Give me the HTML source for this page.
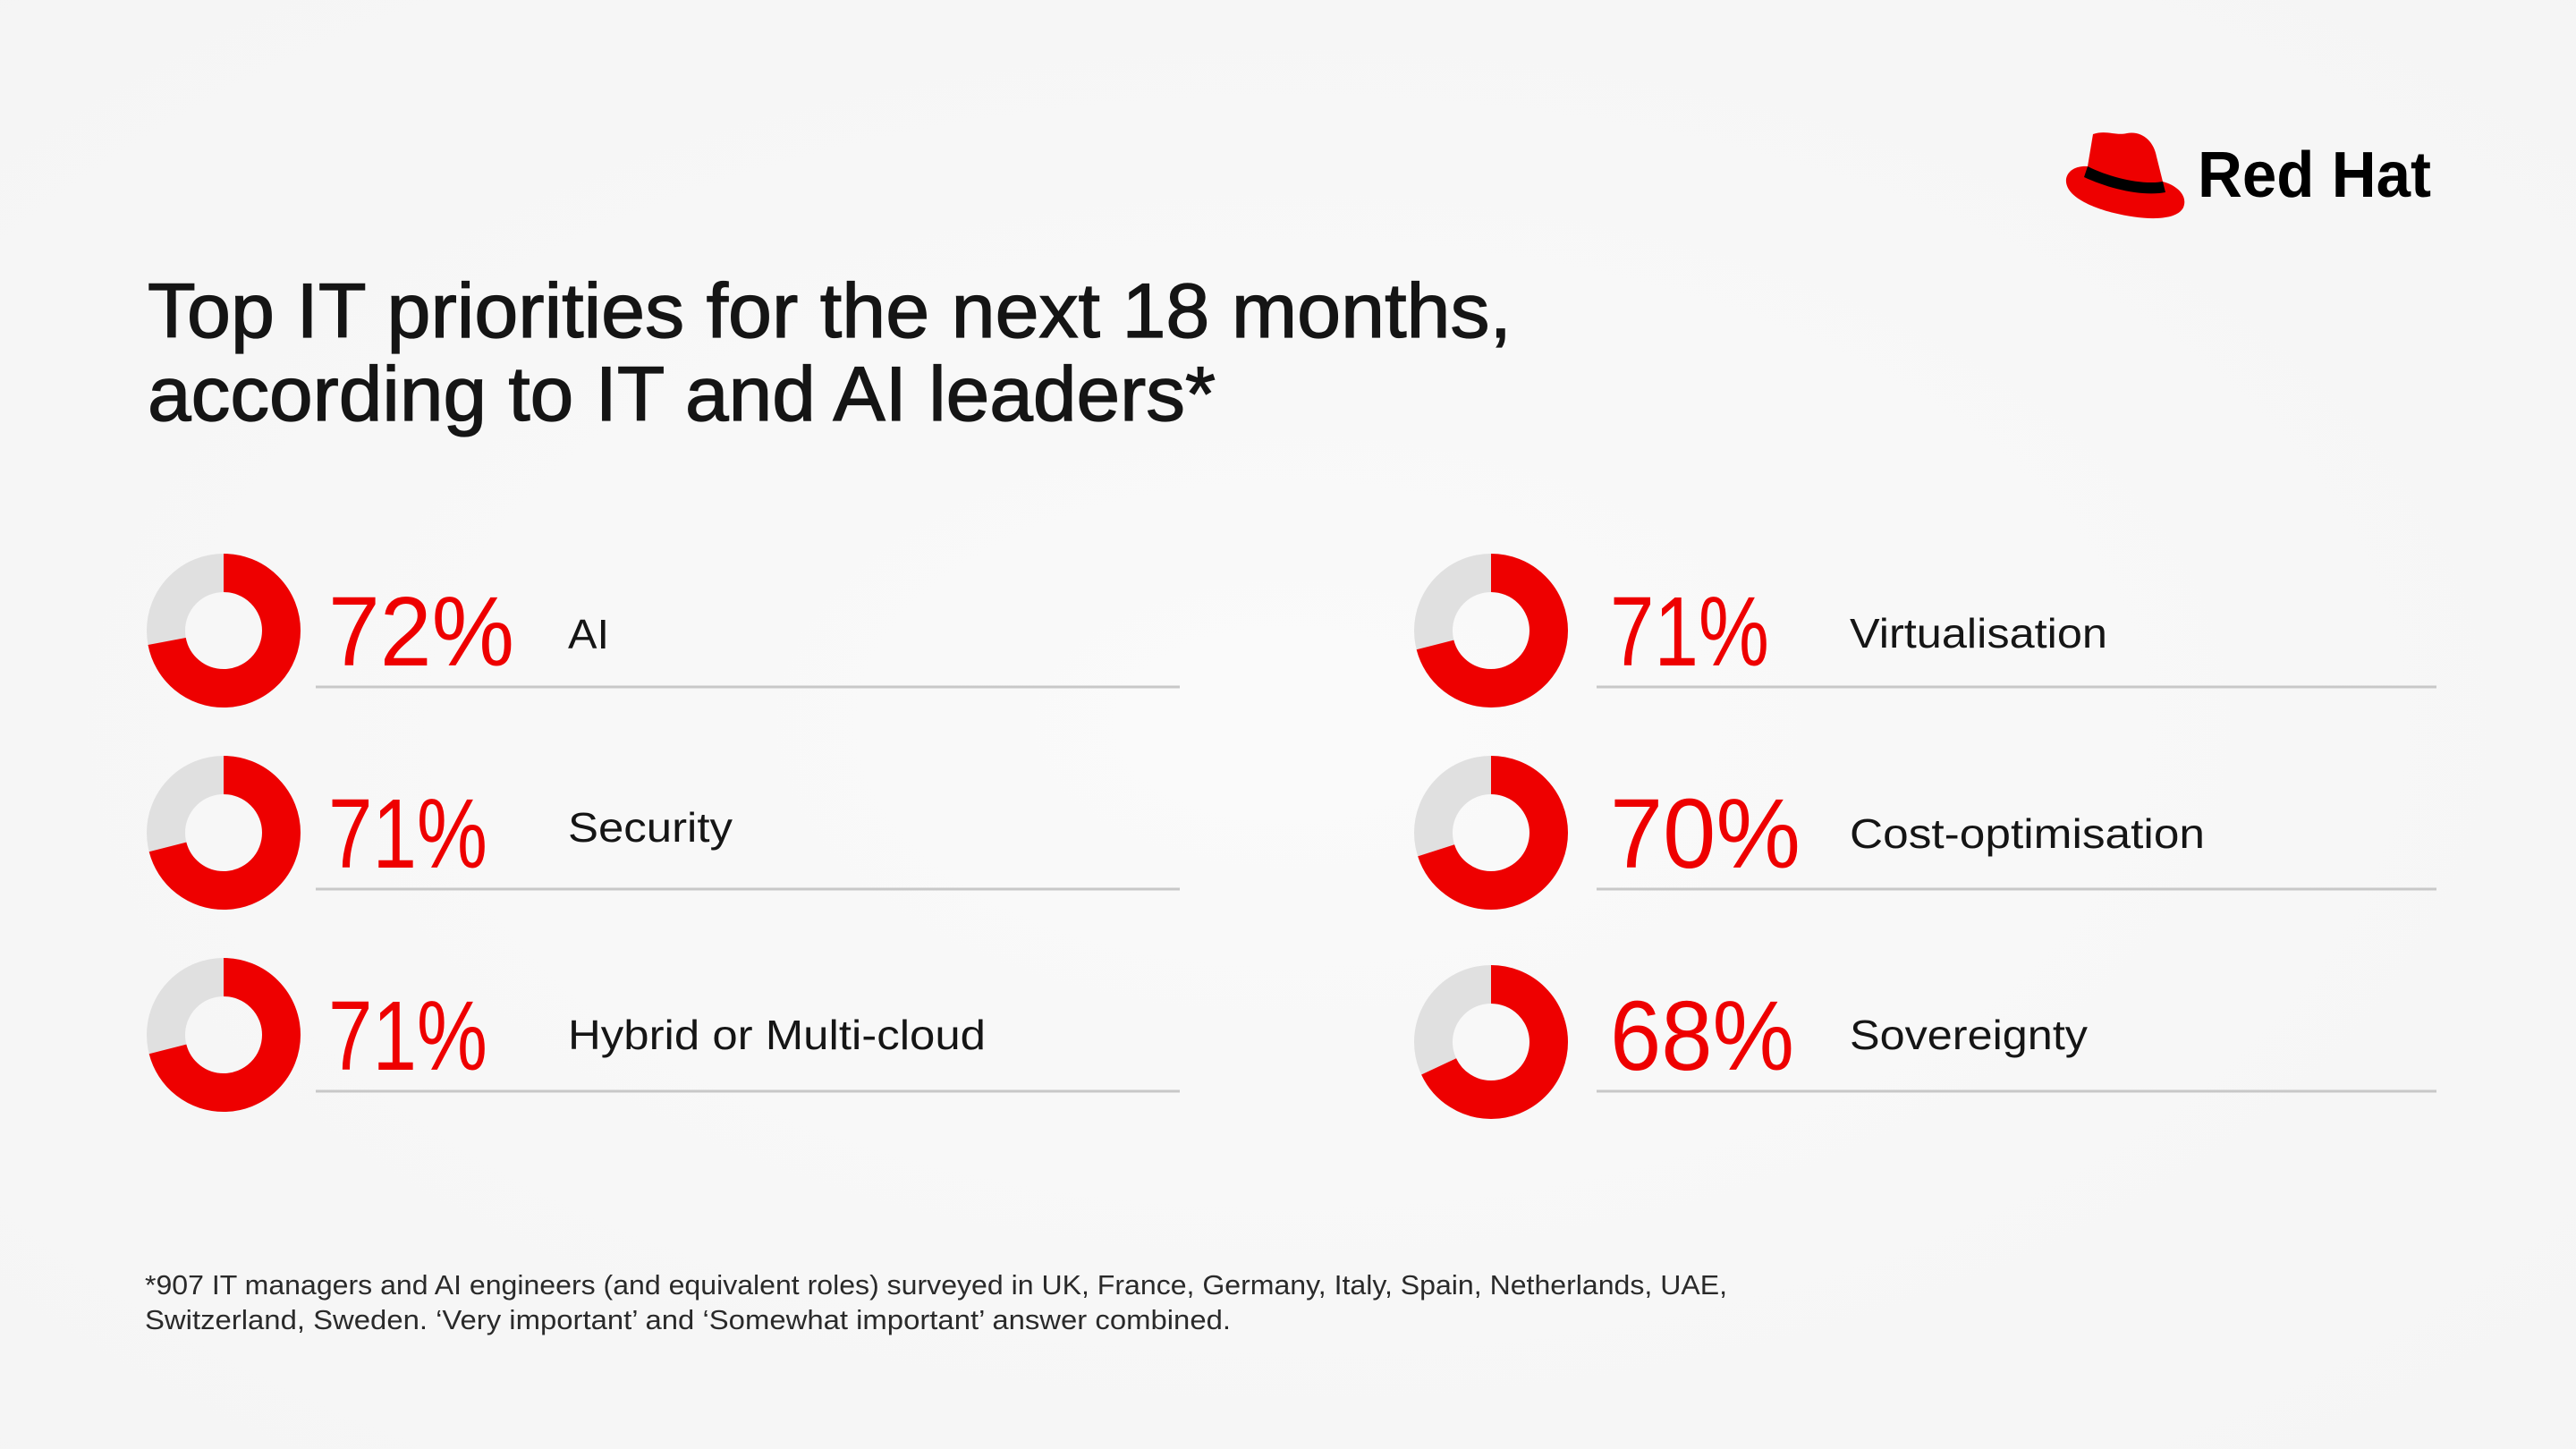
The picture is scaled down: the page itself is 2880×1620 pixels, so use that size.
<!DOCTYPE html>
<html><head><meta charset="utf-8"><style>
html,body{margin:0;padding:0;background:#f7f7f7;}
svg{display:block;}
text{font-family:"Liberation Sans",sans-serif;}
</style></head><body>
<svg width="2880" height="1620" viewBox="0 0 2880 1620" xmlns="http://www.w3.org/2000/svg">
<defs>
<radialGradient id="bg" cx="0.5" cy="0.5" r="0.8">
<stop offset="0" stop-color="#fafafa"/><stop offset="1" stop-color="#f4f4f4"/>
</radialGradient>
</defs>
<rect width="2880" height="1620" fill="url(#bg)"/>

<!-- Logo -->
<g>
<path d="M2340 150 C2355 145 2365 152 2378 149 C2395 146 2408 158 2411 175 L2418 203 C2436 208 2446 220 2441 232 C2433 248 2395 246 2363 238 C2335 231 2308 218 2310 200 C2312 189 2324 185 2334 186 Z" fill="#ee0000"/>
<path d="M2334 186 C2360 199 2395 207 2418 203 L2421 215 C2395 220 2358 211 2330 198 Z" fill="#000"/>
<text x="2457" y="220" font-size="72" font-weight="bold" fill="#000" textLength="261" lengthAdjust="spacingAndGlyphs">Red Hat</text>
</g>

<!-- Title -->
<g font-size="86" fill="#151515" stroke="#151515" stroke-width="1.3">
<text x="165" y="377" textLength="1525" lengthAdjust="spacingAndGlyphs">Top IT priorities for the next 18 months,</text>
<text x="165" y="470" textLength="1194" lengthAdjust="spacingAndGlyphs">according to IT and AI leaders*</text>
</g>

<!-- Donuts -->
<g fill="none" stroke-width="43">
<g transform="translate(250,705) rotate(-90)"><circle r="64.5" stroke="#e0e0e0"/><circle r="64.5" stroke="#ee0000" stroke-dasharray="291.8 500"/></g>
<g transform="translate(250,931) rotate(-90)"><circle r="64.5" stroke="#e0e0e0"/><circle r="64.5" stroke="#ee0000" stroke-dasharray="287.7 500"/></g>
<g transform="translate(250,1157) rotate(-90)"><circle r="64.5" stroke="#e0e0e0"/><circle r="64.5" stroke="#ee0000" stroke-dasharray="287.7 500"/></g>
<g transform="translate(1667,705) rotate(-90)"><circle r="64.5" stroke="#e0e0e0"/><circle r="64.5" stroke="#ee0000" stroke-dasharray="287.7 500"/></g>
<g transform="translate(1667,931) rotate(-90)"><circle r="64.5" stroke="#e0e0e0"/><circle r="64.5" stroke="#ee0000" stroke-dasharray="283.7 500"/></g>
<g transform="translate(1667,1165) rotate(-90)"><circle r="64.5" stroke="#e0e0e0"/><circle r="64.5" stroke="#ee0000" stroke-dasharray="275.6 500"/></g>
</g>

<!-- Lines -->
<g stroke="#c8c8c8" stroke-width="3">
<line x1="353" y1="768" x2="1319" y2="768"/>
<line x1="353" y1="994" x2="1319" y2="994"/>
<line x1="353" y1="1220" x2="1319" y2="1220"/>
<line x1="1785" y1="768" x2="2724" y2="768"/>
<line x1="1785" y1="994" x2="2724" y2="994"/>
<line x1="1785" y1="1220" x2="2724" y2="1220"/>
</g>

<!-- Percents -->
<g font-size="110" fill="#ee0000">
<text x="367" y="744" textLength="208" lengthAdjust="spacingAndGlyphs">72%</text>
<text x="367" y="970" textLength="178" lengthAdjust="spacingAndGlyphs">71%</text>
<text x="367" y="1196" textLength="178" lengthAdjust="spacingAndGlyphs">71%</text>
<text x="1800" y="744" textLength="178" lengthAdjust="spacingAndGlyphs">71%</text>
<text x="1800" y="970" textLength="213" lengthAdjust="spacingAndGlyphs">70%</text>
<text x="1800" y="1196" textLength="206" lengthAdjust="spacingAndGlyphs">68%</text>
</g>

<!-- Labels -->
<g font-size="46" fill="#151515">
<text x="635" y="725" textLength="46" lengthAdjust="spacingAndGlyphs">AI</text>
<text x="635" y="941" textLength="184" lengthAdjust="spacingAndGlyphs">Security</text>
<text x="635" y="1173" textLength="467" lengthAdjust="spacingAndGlyphs">Hybrid or Multi-cloud</text>
<text x="2068" y="724" textLength="288" lengthAdjust="spacingAndGlyphs">Virtualisation</text>
<text x="2068" y="948" textLength="397" lengthAdjust="spacingAndGlyphs">Cost-optimisation</text>
<text x="2068" y="1173" textLength="266" lengthAdjust="spacingAndGlyphs">Sovereignty</text>
</g>

<!-- Footnote -->
<g font-size="31" fill="#2a2a2a">
<text x="162" y="1447" textLength="1769" lengthAdjust="spacingAndGlyphs">*907 IT managers and AI engineers (and equivalent roles) surveyed in UK, France, Germany, Italy, Spain, Netherlands, UAE,</text>
<text x="162" y="1486" textLength="1214" lengthAdjust="spacingAndGlyphs">Switzerland, Sweden. ‘Very important’ and ‘Somewhat important’ answer combined.</text>
</g>
</svg>
</body></html>
